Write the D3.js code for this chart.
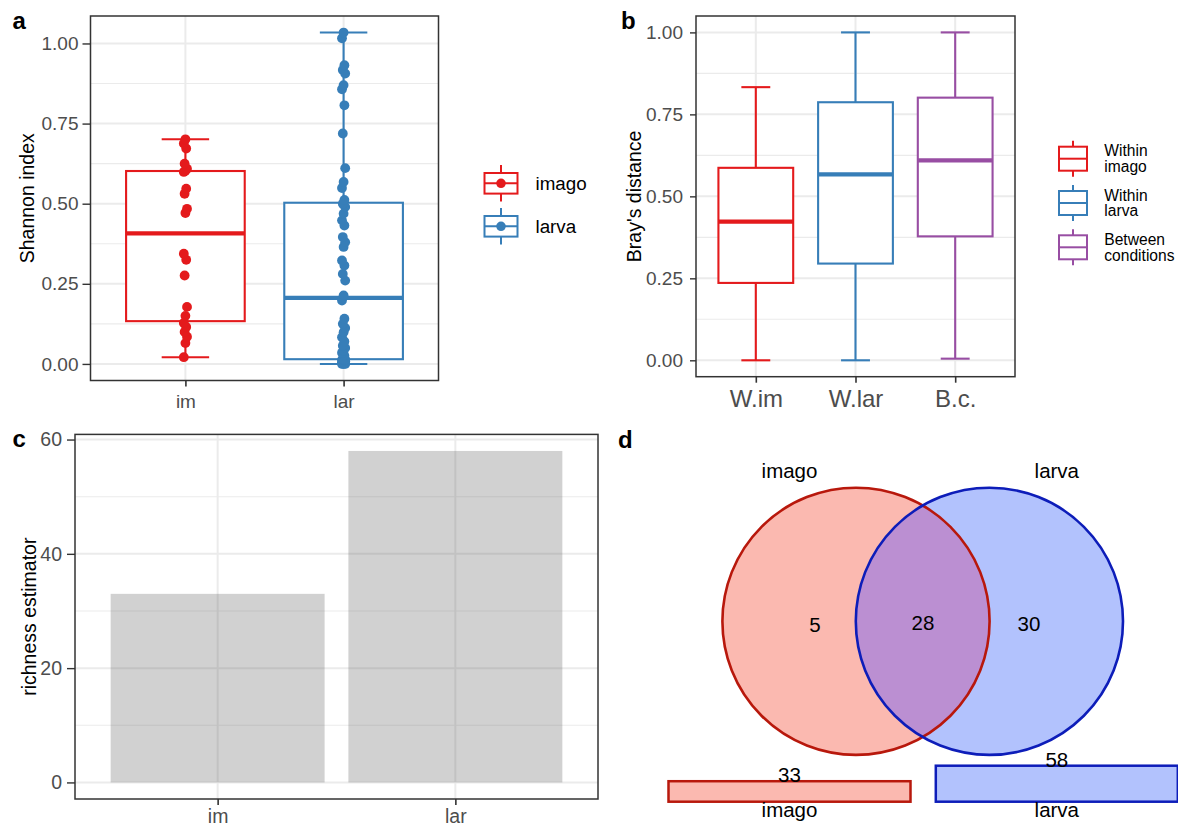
<!DOCTYPE html>
<html>
<head>
<meta charset="utf-8">
<script src="https://cdn.jsdelivr.net/npm/d3@7"></script>
<style>
  body { margin: 0; background: #fff; }
  svg { display: block; }
</style>
</head>
<body>
<svg id="fig" width="1178" height="827"></svg>
<script>
// ---------- data ----------
// a: Shannon index per sample
const shannonGroups = ["im", "lar"];
const shannonLegend = ["imago", "larva"];
const shannonImago = [0.021, 0.065, 0.085, 0.100, 0.115, 0.128, 0.150, 0.178, 0.276, 0.325, 0.344,
                      0.471, 0.484, 0.531, 0.547, 0.599, 0.603, 0.609, 0.625, 0.672, 0.688, 0.701];
const shannonLarva = [0.000, 0.000, 0.000, 0.002, 0.004, 0.005, 0.007, 0.008, 0.010, 0.011, 0.012, 0.013, 0.014,
                      0.015, 0.026, 0.035, 0.042, 0.050, 0.057, 0.070, 0.083, 0.099, 0.112, 0.125, 0.141, 0.198,
                      0.214, 0.260, 0.281, 0.307, 0.323, 0.365, 0.380, 0.396, 0.432, 0.448, 0.469, 0.490, 0.500,
                      0.512, 0.549, 0.568, 0.611, 0.719, 0.807, 0.857, 0.870, 0.906, 0.917, 0.932, 1.016, 1.034];
const unitTicks = [0, 0.25, 0.5, 0.75, 1];

// b: Bray-Curtis distance summaries
const brayGroups = ["W.im", "W.lar", "B.c."];
const brayLegend = [["Within", "imago"], ["Within", "larva"], ["Between", "conditions"]];
const brayLower  = [0.000, 0.000, 0.005];
const brayQ1     = [0.236, 0.295, 0.378];
const brayMedian = [0.423, 0.567, 0.610];
const brayQ3     = [0.587, 0.787, 0.801];
const brayUpper  = [0.833, 1.000, 1.000];

// c: richness estimator
const richnessGroups = ["im", "lar"];
const richness = [33, 58];
const richnessTicks = [0, 20, 40, 60];

// d: shared taxa
const vennSets = ["imago", "larva"];
const vennImagoOnly = 5;
const vennShared = 28;
const vennLarvaOnly = 30;

// ---------- styling ----------
const FONT = '"Liberation Sans", Arial, Helvetica, sans-serif';
const GRID = "#EBEBEB", BORDER = "#333333", TICKTXT = "#4D4D4D";
const RED = "#E41A1C", BLUE = "#377EB8", PURPLE = "#984EA3";

const svg = d3.select("#fig").attr("font-family", FONT);

function expandDomain(lo, hi) {
  const r = hi - lo;
  return [lo - 0.05 * r, hi + 0.05 * r];
}

// panel background grid, border and axes
function frame(g, box, x, y, cfg) {
  g.append("g").selectAll("line").data(cfg.yMinor).join("line")
    .attr("x1", box.x0).attr("x2", box.x1)
    .attr("y1", d => y(d)).attr("y2", d => y(d))
    .attr("stroke", GRID).attr("stroke-width", 1.1);
  g.append("g").selectAll("line").data(cfg.yTicks).join("line")
    .attr("x1", box.x0).attr("x2", box.x1)
    .attr("y1", d => y(d)).attr("y2", d => y(d))
    .attr("stroke", GRID).attr("stroke-width", 2);
  g.append("g").selectAll("line").data(x.domain()).join("line")
    .attr("x1", d => x(d)).attr("x2", d => x(d))
    .attr("y1", box.y0).attr("y2", box.y1)
    .attr("stroke", GRID).attr("stroke-width", 2);

  g.append("g").attr("transform", `translate(${box.x0},0)`)
    .call(d3.axisLeft(y).tickValues(cfg.yTicks).tickFormat(cfg.yFormat)
      .tickSize(cfg.yTickSize).tickPadding(cfg.yPad))
    .call(a => {
      a.select(".domain").remove();
      a.selectAll("line").attr("stroke", BORDER).attr("stroke-width", 1.4);
      a.selectAll("text").attr("fill", TICKTXT).attr("font-size", cfg.yFont).attr("font-family", FONT);
    });
  g.append("g").attr("transform", `translate(0,${box.y1})`)
    .call(d3.axisBottom(x).tickSize(cfg.xTickSize).tickPadding(cfg.xPad))
    .call(a => {
      a.select(".domain").remove();
      a.selectAll("line").attr("stroke", BORDER).attr("stroke-width", 1.6);
      a.selectAll("text").attr("fill", TICKTXT).attr("font-size", cfg.xFont).attr("font-family", FONT);
    });

  g.append("text")
    .attr("transform", `translate(${cfg.titleX},${(box.y0 + box.y1) / 2}) rotate(-90)`)
    .attr("text-anchor", "middle").attr("font-size", 19.5).attr("fill", "#000")
    .text(cfg.title);
}

function border(g, box) {
  g.append("rect").attr("x", box.x0).attr("y", box.y0)
    .attr("width", box.x1 - box.x0).attr("height", box.y1 - box.y0)
    .attr("fill", "none").attr("stroke", BORDER).attr("stroke-width", 1.5);
}

// box and whiskers in ggplot style
function drawBox(g, cx, bw, cw, y, s, color) {
  g.append("line").attr("x1", cx).attr("x2", cx).attr("y1", y(s.q3)).attr("y2", y(s.hi))
    .attr("stroke", color).attr("stroke-width", 2.1);
  g.append("line").attr("x1", cx).attr("x2", cx).attr("y1", y(s.q1)).attr("y2", y(s.lo))
    .attr("stroke", color).attr("stroke-width", 2.1);
  [s.hi, s.lo].forEach(v => g.append("line")
    .attr("x1", cx - cw / 2).attr("x2", cx + cw / 2).attr("y1", y(v)).attr("y2", y(v))
    .attr("stroke", color).attr("stroke-width", 2.1));
  g.append("rect").attr("x", cx - bw / 2).attr("y", y(s.q3))
    .attr("width", bw).attr("height", y(s.q1) - y(s.q3))
    .attr("fill", "#fff").attr("stroke", color).attr("stroke-width", 2.1);
  g.append("line").attr("x1", cx - bw / 2).attr("x2", cx + bw / 2)
    .attr("y1", y(s.med)).attr("y2", y(s.med))
    .attr("stroke", color).attr("stroke-width", 4.2);
}

function boxStats(vals) {
  const s = vals.slice().sort(d3.ascending);
  const q1 = d3.quantileSorted(s, 0.25), med = d3.quantileSorted(s, 0.5), q3 = d3.quantileSorted(s, 0.75);
  const iqr = q3 - q1;
  return {
    q1, med, q3,
    lo: d3.min(s.filter(v => v >= q1 - 1.5 * iqr)),
    hi: d3.max(s.filter(v => v <= q3 + 1.5 * iqr))
  };
}

function legendKey(g, cx, cy, w, h, wh, color, withPoint) {
  g.append("line").attr("x1", cx).attr("x2", cx).attr("y1", cy - wh).attr("y2", cy + wh)
    .attr("stroke", color).attr("stroke-width", 2);
  g.append("rect").attr("x", cx - w / 2).attr("y", cy - h / 2).attr("width", w).attr("height", h)
    .attr("fill", "#fff").attr("stroke", color).attr("stroke-width", 2);
  g.append("line").attr("x1", cx - w / 2).attr("x2", cx + w / 2).attr("y1", cy).attr("y2", cy)
    .attr("stroke", color).attr("stroke-width", 2);
  if (withPoint) g.append("circle").attr("cx", cx).attr("cy", cy).attr("r", 4.8).attr("fill", color);
}

function tag(label, x, y) {
  svg.append("text").attr("x", x).attr("y", y).attr("font-size", 24).attr("font-weight", "bold")
    .attr("fill", "#000").text(label);
}

// ---------- a: Shannon index ----------
{
  const box = { x0: 90.5, x1: 438.5, y0: 16, y1: 380.5 };
  const g = svg.append("g");
  const all = shannonImago.concat(shannonLarva);
  const x = d3.scalePoint().domain(shannonGroups).range([box.x0, box.x1]).padding(0.6);
  const y = d3.scaleLinear().domain(expandDomain(d3.min(all), d3.max(all))).range([box.y1, box.y0]);
  frame(g, box, x, y, {
    yTicks: unitTicks, yMinor: [0.125, 0.375, 0.625, 0.875], yFormat: d3.format(".2f"),
    yTickSize: 8, yPad: 4, yFont: 19, xTickSize: 6, xPad: 8, xFont: 19,
    title: "Shannon index", titleX: 33.5
  });
  const step = x.step();
  const series = [shannonImago, shannonLarva];
  const colors = [RED, BLUE];
  series.forEach((vals, i) => {
    const cx = x(shannonGroups[i]);
    drawBox(g, cx, step * 0.75, step * 0.3, y, boxStats(vals), colors[i]);
  });
  // sample points, nudged sideways slightly so stacked values stay visible
  series.forEach((vals, i) => {
    const cx = x(shannonGroups[i]);
    g.append("g").selectAll("circle").data(vals).join("circle")
      .attr("cx", (d, j) => cx + (((j * 7) % 5) - 2) * 0.8)
      .attr("cy", d => y(d)).attr("r", 4.9).attr("fill", colors[i]);
  });
  border(g, box);

  shannonLegend.forEach((name, i) => {
    const cy = 183.3 + i * 43;
    legendKey(g, 501, cy, 33, 20.6, 18.3, colors[i], true);
    g.append("text").attr("x", 535.5).attr("y", cy + 6.8).attr("font-size", 18.8).attr("fill", "#000").text(name);
  });
  tag("a", 12.5, 29.3);
}

// ---------- b: Bray's distance ----------
{
  const box = { x0: 696, x1: 1015, y0: 16, y1: 376.7 };
  const g = svg.append("g");
  const x = d3.scalePoint().domain(brayGroups).range([box.x0, box.x1]).padding(0.6);
  const y = d3.scaleLinear().domain(expandDomain(d3.min(brayLower), d3.max(brayUpper))).range([box.y1, box.y0]);
  frame(g, box, x, y, {
    yTicks: unitTicks, yMinor: [0.125, 0.375, 0.625, 0.875], yFormat: d3.format(".2f"),
    yTickSize: 6, yPad: 7, yFont: 19, xTickSize: 6, xPad: 7, xFont: 24,
    title: "Bray's distance", titleX: 640.5
  });
  const colors = [RED, BLUE, PURPLE];
  brayGroups.forEach((grp, i) => {
    drawBox(g, x(grp), x.step() * 0.75, x.step() * 0.29, y,
      { lo: brayLower[i], q1: brayQ1[i], med: brayMedian[i], q3: brayQ3[i], hi: brayUpper[i] }, colors[i]);
  });
  border(g, box);

  brayLegend.forEach((lines, i) => {
    const cy = 158.7 + i * 44.3;
    legendKey(g, 1073, cy, 28, 24, 18, colors[i], false);
    const t = g.append("text").attr("x", 1104.3).attr("font-size", 15.6).attr("fill", "#000");
    lines.forEach((ln, k) => t.append("tspan").attr("x", 1104.3).attr("y", cy - 2.3 + k * 15.6).text(ln));
  });
  tag("b", 621, 29.3);
}

// ---------- c: richness estimator ----------
{
  const box = { x0: 75, x1: 598, y0: 434.4, y1: 799 };
  const g = svg.append("g");
  const x = d3.scalePoint().domain(richnessGroups).range([box.x0, box.x1]).padding(0.6);
  const y = d3.scaleLinear().domain(expandDomain(0, d3.max(richness))).range([box.y1, box.y0]);
  frame(g, box, x, y, {
    yTicks: richnessTicks, yMinor: [10, 30, 50], yFormat: d3.format("d"),
    yTickSize: 8, yPad: 5, yFont: 19.5, xTickSize: 6, xPad: 4.5, xFont: 19.5,
    title: "richness estimator", titleX: 36
  });
  const bw = x.step() * 0.9;
  g.append("g").selectAll("rect").data(richness).join("rect")
    .attr("x", (d, i) => x(richnessGroups[i]) - bw / 2).attr("width", bw)
    .attr("y", d => y(d)).attr("height", d => y(0) - y(d))
    .attr("fill", "#595959").attr("fill-opacity", 0.28);
  border(g, box);
  tag("c", 12.5, 447);
}

// ---------- d: Venn diagram ----------
{
  const g = svg.append("g");
  const totals = [vennImagoOnly + vennShared, vennLarvaOnly + vennShared];
  const fills = ["#FBB9B0", "#B2C2FD"];
  const strokes = ["#B8180C", "#0D1DB9"];
  const overlapFill = "#BB8FD2";
  const circles = [{ cx: 856, cy: 621.3, r: 133.6 }, { cx: 989.4, cy: 621.3, r: 133.6 }];

  circles.forEach((c, i) => g.append("circle").attr("cx", c.cx).attr("cy", c.cy).attr("r", c.r).attr("fill", fills[i]));
  g.append("clipPath").attr("id", "imagoClip").append("circle")
    .attr("cx", circles[0].cx).attr("cy", circles[0].cy).attr("r", circles[0].r);
  g.append("circle").attr("cx", circles[1].cx).attr("cy", circles[1].cy).attr("r", circles[1].r)
    .attr("fill", overlapFill).attr("clip-path", "url(#imagoClip)");
  circles.forEach((c, i) => g.append("circle").attr("cx", c.cx).attr("cy", c.cy).attr("r", c.r)
    .attr("fill", "none").attr("stroke", strokes[i]).attr("stroke-width", 2.6));

  const regionLabels = [
    { v: vennImagoOnly, x: 815, y: 632.3 },
    { v: vennShared, x: 923, y: 629.5 },
    { v: vennLarvaOnly, x: 1029, y: 631 }
  ];
  g.append("g").selectAll("text").data(regionLabels).join("text")
    .attr("x", d => d.x).attr("y", d => d.y).attr("text-anchor", "middle")
    .attr("font-size", 20.5).attr("fill", "#000").text(d => d.v);

  // set-size bars under the diagram
  const barX = [668.5, 935.8];
  const barW = 242;
  const base = 801.7;
  const h = d3.scaleLinear().domain([0, d3.max(totals)]).range([0, 36]);
  totals.forEach((t, i) => {
    const cx = barX[i] + barW / 2;
    g.append("rect").attr("x", barX[i]).attr("y", base - h(t)).attr("width", barW).attr("height", h(t))
      .attr("fill", fills[i]).attr("stroke", strokes[i]).attr("stroke-width", 2.5);
    g.append("text").attr("x", cx).attr("y", base - h(t) + 1).attr("text-anchor", "middle")
      .attr("font-size", 20.5).attr("fill", "#000").text(t);
    g.append("text").attr("x", cx).attr("y", 817).attr("text-anchor", "middle")
      .attr("font-size", 20.5).attr("fill", "#000").text(vennSets[i]);
    g.append("text").attr("x", cx).attr("y", 478).attr("text-anchor", "middle")
      .attr("font-size", 20.5).attr("fill", "#000").text(vennSets[i]);
  });
  tag("d", 618, 448);
}
</script>
</body>
</html>
